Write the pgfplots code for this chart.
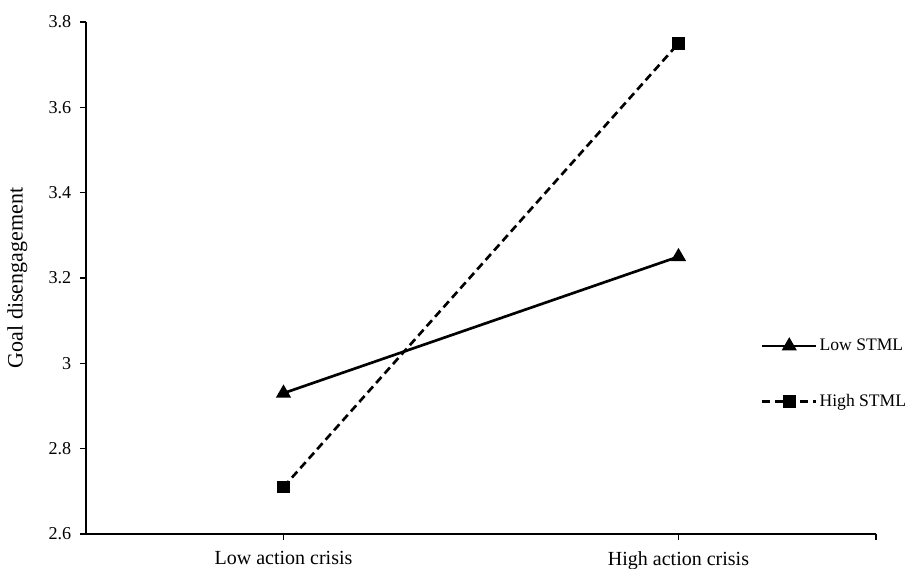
\documentclass[border=0pt]{standalone}
\usepackage{fontspec}
\setmainfont{Liberation Serif}
\usepackage{pgfplots}
\pgfplotsset{compat=1.18}
\begin{document}
\begin{tikzpicture}
\begin{axis}[
  scale only axis,
  width=592.5pt, height=384pt,
  xmin=-0.5, xmax=1.5,
  ymin=2.6, ymax=3.8,
  ytick={2.6,2.8,3,3.2,3.4,3.6,3.8},
  xtick={0,1,1.5},
  xticklabels={Low action crisis,High action crisis,},
  axis lines=left,
  axis line style={-, line width=1.3pt},
  tick style={line width=1.1pt, black},
  tick align=outside,
  major tick length=4.5pt,
  /pgf/number format/assume math mode=true,
  yticklabel style={font=\fontsize{13.6}{16}\selectfont, xshift=-3pt},
  xticklabel style={font=\fontsize{15}{18}\selectfont, yshift=-5pt},
  ylabel={Goal disengagement},
  ylabel style={font=\fontsize{16.5}{19}\selectfont, at={(axis description cs:-0.0684,0.5)}, anchor=south, rotate=0},
  legend style={draw=none, at={(rel axis cs:0.854,0.385)}, anchor=north west,
    row sep=28pt, inner sep=0pt, font=\fontsize{13.2}{15.5}\selectfont,
    nodes={inner sep=1.5pt}},
  legend cell align=left,
  legend image code/.code={\draw[mark repeat=2,mark phase=2,#1] plot coordinates {(0pt,0pt)(20.25pt,0pt)(40.5pt,0pt)};},
]
\addplot[black, line width=2pt, mark=triangle*, mark size=4.6pt, mark options={solid}]
  coordinates {(0,2.93) (1,3.25)};
\addlegendentry{Low STML}
\addplot[black, line width=2pt, dash pattern=on 6pt off 3.5pt, mark=square*, mark size=3.7pt, mark options={solid}]
  coordinates {(0,2.71) (1,3.75)};
\addlegendentry{High STML}
\end{axis}
\pgfresetboundingbox
\path ([xshift=-64.5pt,yshift=-25.5pt]current axis.south west) rectangle ([xshift=25.5pt,yshift=16.5pt]current axis.north east);
\end{tikzpicture}
\end{document}
